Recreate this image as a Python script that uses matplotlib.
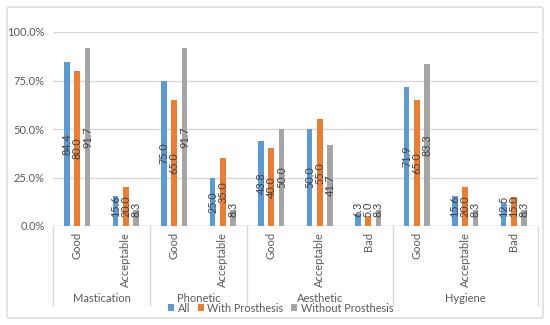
import matplotlib
matplotlib.use("Agg")
import matplotlib.pyplot as plt
from matplotlib.patches import FancyBboxPatch
from matplotlib.transforms import blended_transform_factory
import numpy as np

# data
subcats = ["Good", "Acceptable", "Good", "Acceptable", "Good", "Acceptable", "Bad",
           "Good", "Acceptable", "Bad"]
groups = ["Mastication", "Phonetic", "Aesthetic", "Hygiene"]
group_sizes = [2, 2, 3, 3]
series_names = ["All", "With Prosthesis", "Without Prosthesis"]
all_vals = [84.4, 15.6, 75.0, 25.0, 43.8, 50.0, 6.3, 71.9, 15.6, 12.5]
with_vals = [80.0, 20.0, 65.0, 35.0, 40.0, 55.0, 5.0, 65.0, 20.0, 15.0]
without_vals = [91.7, 8.3, 91.7, 8.3, 50.0, 41.7, 8.3, 83.3, 8.3, 8.3]

colors = ["#5B9BD5", "#ED7D31", "#A5A5A5"]
text_col = "#595959"
grid_col = "#D9D9D9"

plt.rcParams["font.family"] = ["Lato", "DejaVu Sans"]

fig = plt.figure(figsize=(5.5, 3.25), dpi=100)
ax = fig.add_axes([53 / 550, 99 / 325, 485 / 550, 194 / 325])

# outer chart border
fig.patches.append(FancyBboxPatch((7 / 550, 7 / 325), 536 / 550, 311 / 325,
                                  boxstyle="round,pad=0,rounding_size=0.005",
                                  transform=fig.transFigure, fill=False,
                                  edgecolor=grid_col, linewidth=1))

x = np.arange(len(subcats))
step = 0.21
width = 0.115
for k, (vals, name) in enumerate(zip([all_vals, with_vals, without_vals], series_names)):
    xs = x + (k - 1) * step
    ax.bar(xs, vals, width=width, color=colors[k], label=name, zorder=2)
    for xi, v in zip(xs, vals):
        s = f"{v:.1f}"
        yc = max(v / 2, 4.5 + 1.4 * len(s))
        ax.text(xi, yc, s, rotation=90, ha="center", va="center",
                fontsize=7.8, color="#404040", zorder=3)

ax.set_xlim(-0.5, len(subcats) - 0.5)
ax.set_ylim(0, 100)
ax.set_yticks([0, 25, 50, 75, 100])
ax.set_yticklabels([f"{t:.1f}%" for t in [0, 25, 50, 75, 100]])
ax.tick_params(axis="y", length=0, pad=6, labelsize=8, labelcolor=text_col)
ax.set_xticks([])
ax.grid(axis="y", color=grid_col, linewidth=1, zorder=0)
for sp in ax.spines.values():
    sp.set_visible(False)
ax.axhline(0, color=grid_col, linewidth=1, zorder=1)

# multi-level category axis
trans = blended_transform_factory(ax.transData, fig.transFigure)
for xi, lab in zip(x, subcats):
    ax.text(xi, (325 - 232) / 325, lab, rotation=90, ha="center", va="top",
            fontsize=8, color=text_col, transform=trans)

start = 0
bounds = [-0.5]
for g, n in zip(groups, group_sizes):
    ax.text(start + (n - 1) / 2, (325 - 298) / 325, g, ha="center", va="center",
            fontsize=8, color=text_col, transform=trans)
    start += n
    bounds.append(start - 0.5)
for b in bounds:
    ax.plot([b, b], [99 / 325, 20 / 325], color=grid_col, linewidth=1,
            transform=trans, clip_on=False)

fig.legend(loc="center", bbox_to_anchor=(0.51, 17 / 325), ncol=3, frameon=False,
           fontsize=7.8, labelcolor=text_col, handlelength=0.6, handleheight=0.6,
           handletextpad=0.3, columnspacing=0.7)

plt.savefig("out.png", dpi=100)
